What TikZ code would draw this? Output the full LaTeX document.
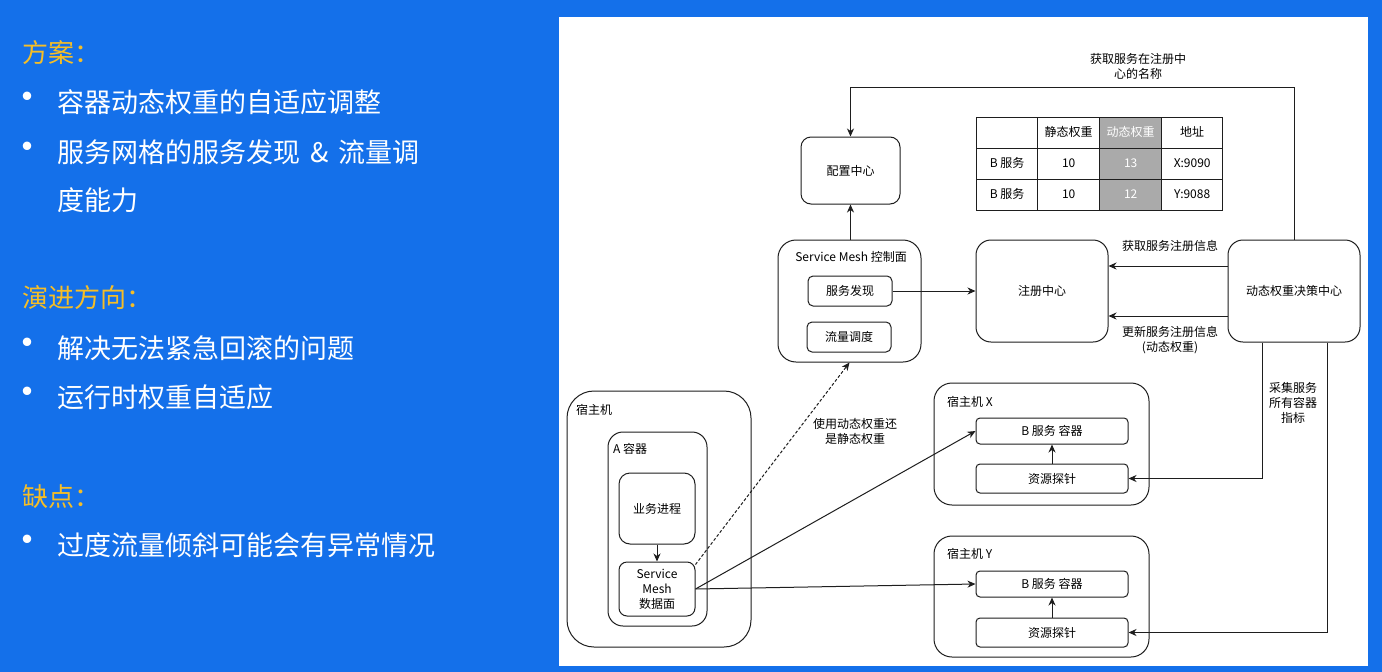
\documentclass[tikz,border=0pt]{standalone}
\usepackage{fontspec}
\setmainfont{Noto Sans CJK SC}
\usepackage{xcolor}
\usepackage{tikz}
\usetikzlibrary{positioning, arrows.meta, matrix}

\definecolor{slideblue}{RGB}{20,112,234}
\definecolor{headyellow}{RGB}{246,190,38}
\definecolor{cellgray}{RGB}{170,170,170}
\definecolor{inkline}{RGB}{30,30,30}

\begin{document}
\begin{tikzpicture}[x=1pt, y=-1pt,
    font=\fontsize{12}{15}\selectfont,
    box/.style={draw=inkline, line width=1pt, rounded corners=#1, inner sep=0pt, align=center},
    box/.default=5,
    arr/.style={-{Stealth[length=8pt,width=7pt,inset=2.5pt]}, line width=1pt, draw=inkline},
    lbl/.style={align=center, inner sep=0pt},
    boxtitle/.style={anchor=west, inner sep=0pt},
    head/.style={anchor=west, inner sep=0pt, text=headyellow, font=\fontsize{26}{30}\selectfont},
    item/.style={anchor=west, inner sep=0pt, text=white, align=left, font=\fontsize{27}{48}\selectfont},
    dot/.style={inner sep=0pt, text=white, font=\fontsize{40}{40}\selectfont}]
            \useasboundingbox (0,0) rectangle (1382,672);

            % Slide and panel
            \fill[slideblue] (0,0) rectangle (1382,672);
            \fill[white] (559,17) rectangle (1368,666);

            % Left text
            \node[head] (h1) at (22,53) {方案：};
            \node[dot] (d1) at (28,102) {•};
            \node[item] (i1) at (57,102) {容器动态权重的自适应调整};
            \node[dot] (d2) at (28,152) {•};
            \node[item] (i2) at (57,176) {服务网格的服务发现\hspace{10pt}\&\hspace{10pt}流量调\\度能力};

            \node[head] (h2) at (22,298) {演进方向：};
            \node[dot] (d3) at (28,348) {•};
            \node[item] (i3) at (57,348) {解决无法紧急回滚的问题};
            \node[dot] (d4) at (28,397) {•};
            \node[item] (i4) at (57,397) {运行时权重自适应};

            \node[head] (h3) at (22,497) {缺点：};
            \node[dot] (d5) at (28,545) {•};
            \node[item] (i5) at (57,545) {过度流量倾斜可能会有异常情况};

            % Control side
            \node[box=10, minimum width=99, minimum height=67] (config) at (850.5,170.5) {配置中心};
            \node[box=18, minimum width=143, minimum height=122] (cp) at (849.5,301) {};
            \node[lbl] (cptitle) at (851,257) {Service Mesh 控制面};
            \node[box, minimum width=84, minimum height=30] (disc) at (850,291) {服务发现};
            \node[box, minimum width=84, minimum height=30] (flow) at (849,337) {流量调度};

            \node[box=15, minimum width=132, minimum height=102] (reg) at (1042,291) {注册中心};
            \node[box=15, minimum width=132, minimum height=102] (decide) at (1294,291) {动态权重决策中心};

            % Weight table
            \matrix (wtab) [matrix of nodes, anchor=north west, inner sep=0pt, nodes in empty cells,
                column sep=-1pt, row sep=-1pt,
                nodes={draw=inkline, line width=1pt, minimum height=31, text height=9, text depth=2.5, inner sep=0pt},
                column 1/.style={nodes={minimum width=61}},
                column 2/.style={nodes={minimum width=62}},
                column 3/.style={nodes={minimum width=62, fill=cellgray, text=white}},
                column 4/.style={nodes={minimum width=61}}] at (976,117) {
                & 静态权重 & 动态权重 & 地址 \\
                B 服务 & 10 & 13 & X:9090 \\
                B 服务 & 10 & 12 & Y:9088 \\
            };

            % Host A
            \node[box=27, minimum width=184, minimum height=256] (host) at (659,519) {};
            \node[boxtitle] (hosttitle) at (576,410) {宿主机};
            \node[box=15, minimum width=99, minimum height=194] (acont) at (657.5,529) {};
            \node[boxtitle] (aconttitle) at (613,449) {A 容器};
            \node[box=11, minimum width=76, minimum height=71] (biz) at (657,508.5) {业务进程};
            \node[box=8, minimum width=76, minimum height=54] (dp) at (657,589) {Service\\Mesh\\数据面};

            % Host X
            \node[box=18, minimum width=215, minimum height=122] (hostx) at (1041.5,444) {};
            \node[boxtitle] (hostxtitle) at (947,402) {宿主机 X};
            \node[box=4, minimum width=152, minimum height=26] (bx) at (1052,431) {B 服务 容器};
            \node[box=4, minimum width=152, minimum height=29] (px) at (1052,478.5) {资源探针};

            % Host Y
            \node[box=18, minimum width=215, minimum height=121] (hosty) at (1041.5,596.5) {};
            \node[boxtitle] (hostytitle) at (947,554) {宿主机 Y};
            \node[box=4, minimum width=152, minimum height=26] (by) at (1052,584) {B 服务 容器};
            \node[box=4, minimum width=152, minimum height=29] (py) at (1052,632.5) {资源探针};

            % Connectors
            \coordinate (looptop) at (850.5,87);
            \draw[arr] (decide.north) |- (looptop) -- (config.north);
            \node[lbl] (looplbl) at (1138,66) {获取服务在注册中\\心的名称};

            \draw[arr] (cp.north -| config.south) -- (config.south);
            \draw[arr] (disc.east) -- (reg.west);

            \draw[arr] ([yshift=25pt]decide.west) -- ([yshift=25pt]reg.east);
            \node[lbl] (getlbl) at (1170,246) {获取服务注册信息};
            \draw[arr] ([yshift=-25pt]decide.west) -- ([yshift=-25pt]reg.east);
            \node[lbl] (updlbl) at (1170,340) {更新服务注册信息\\(动态权重)};

            \draw[arr] ([xshift=-32pt]decide.south) |- (px.east);
            \draw[arr] ([xshift=33pt]decide.south) |- (py.east);
            \node[lbl] (collectlbl) at (1293,403) {采集服务\\所有容器\\指标};

            \draw[arr] (biz.south) -- (dp.north);
            \draw[arr, densely dashed] ([yshift=-3pt]dp.north east) -- (cp.south);
            \node[lbl] (dynlbl) at (855,431) {使用动态权重还\\是静态权重};
            \draw[arr] (dp.east) -- (bx.west);
            \draw[arr] (dp.east) -- (by.west);
            \draw[arr] (px.north) -- (bx.south);
            \draw[arr] (py.north) -- (by.south);
        \end{tikzpicture}
\end{document}
